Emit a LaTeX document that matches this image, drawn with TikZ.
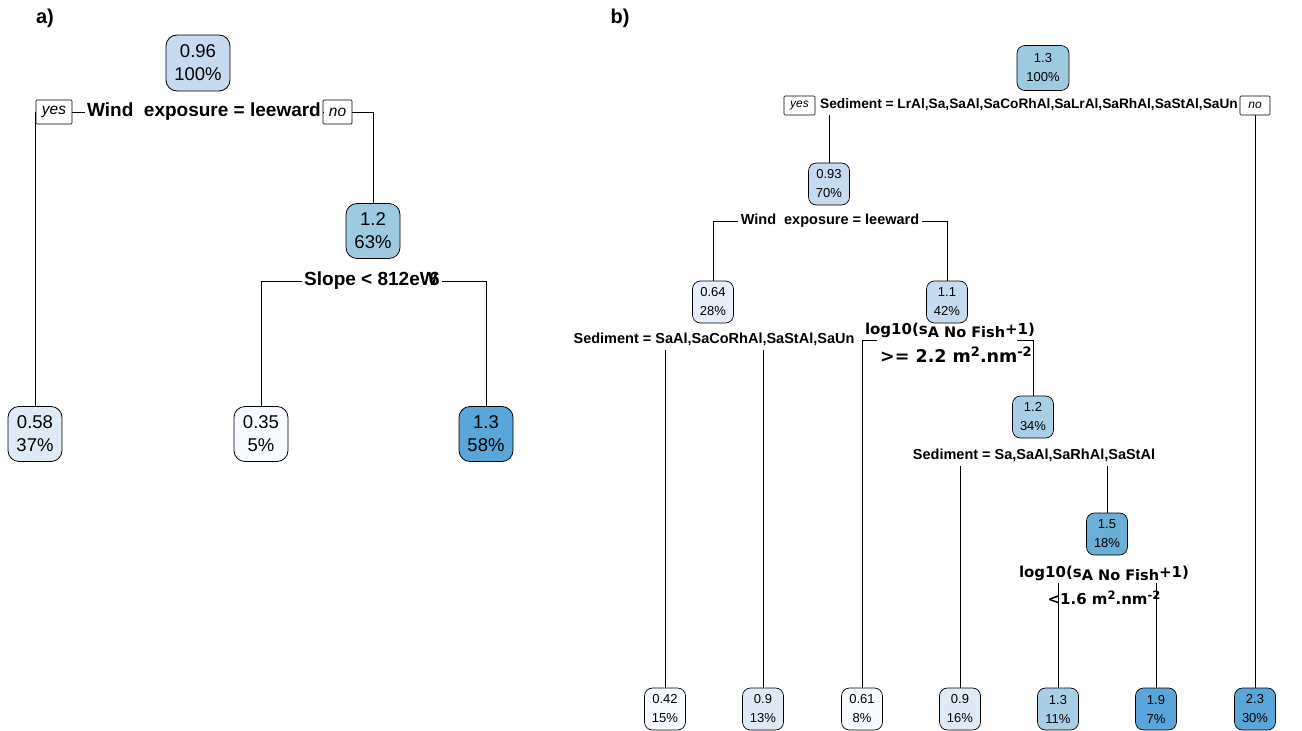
\documentclass[tikz,border=0pt]{standalone}
\usepackage{fontspec}
\setmainfont{Liberation Sans}
\newfontfamily\dvs{DejaVu Sans}
\newcommand\myfs[2]{\fontsize{#1}{#2}\selectfont}
\definecolor{cA}{HTML}{F7FBFF}
\definecolor{cB}{HTML}{E6EFF9}
\definecolor{cC}{HTML}{DEEBF7}
\definecolor{cD}{HTML}{C6DBEF}
\definecolor{cE}{HTML}{A9CFE6}
\definecolor{cF}{HTML}{9ECAE1}
\definecolor{cG}{HTML}{6BAED6}
\definecolor{cH}{HTML}{5AA5D9}
\begin{document}
\begin{tikzpicture}[x=1pt,y=-1pt,
  anode/.style={draw=black, line width=0.8pt, rounded corners=11pt, align=center,
    minimum width=54pt, minimum height=55pt, inner sep=0pt, font={\myfs{18.5}{23}}},
  bnode/.style={draw=black, line width=0.7pt, rounded corners=8pt, align=center,
    minimum width=41pt, minimum height=42pt, inner sep=0pt, font={\myfs{13}{19}}},
  splA/.style={font={\bfseries\myfs{19}{22}}, inner xsep=2pt, inner ysep=3pt},
  splB/.style={font={\bfseries\myfs{14.5}{17}}, inner xsep=3pt, inner ysep=4pt},
  ynA/.style={draw=black, line width=0.7pt, font={\itshape\myfs{15.5}{18}}, inner sep=0pt, minimum height=24pt, rounded corners=1pt},
  ynB/.style={draw=black, line width=0.6pt, font={\itshape\myfs{12}{14}}, inner sep=0pt, minimum height=19pt, rounded corners=1pt},
  logl/.style={font={\dvs\bfseries\myfs{15}{18}}, inner sep=0pt},
  panel/.style={font={\bfseries\myfs{20}{24}}, inner sep=0pt},
  conn/.style={line width=0.8pt, draw=black}]
\useasboundingbox (0,0) rectangle (1302,731);

% ---------------- panel a ----------------
\node[panel] (la) at (45,18) {a)};
\node[anode, fill=cD, minimum width=64pt, minimum height=56pt] (A0) at (198,63) {0.96\\100\%};
\node[splA] (sA) at (204,112) {Wind\ \ exposure = leeward};
\node[ynA, minimum width=36pt] (yesA) at (54,112) {yes};
\node[ynA, minimum width=29pt] (noA) at (337.5,112) {no};
\node[anode, fill=cF] (A1) at (373,231) {1.2\\63\%};
\node[splA] (sB) at (372,281) {Slope < 812eW\kern-0.45em 6};
\node[anode, fill=cC] (A2) at (35,434) {0.58\\37\%};
\node[anode, fill=cA] (A3) at (261,434) {0.35\\5\%};
\node[anode, fill=cH] (A4) at (486,434) {1.3\\58\%};

\draw[conn] (yesA.east) -- (sA.west);
\draw[conn] (sA.east) -- (noA.west);
\draw[conn] (yesA.west) -| (A2.north);
\draw[conn] (noA.east) -| (A1.north);
\draw[conn] (sB.west) -| (A3.north);
\draw[conn] (sB.east) -| (A4.north);

% ---------------- panel b ----------------
\node[panel] (lb) at (620,18) {b)};
\node[bnode, fill=cF, minimum width=52pt, minimum height=45pt] (B0) at (1043,68) {1.3\\100\%};
\node[splB, font={\bfseries\myfs{13.7}{16}}] (sR) at (1029,105) {Sediment = LrAl,Sa,SaAl,SaCoRhAl,SaLrAl,SaRhAl,SaStAl,SaUn};
\node[ynB, minimum width=31pt] (yesB) at (799.5,105.5) {yes};
\node[ynB, minimum width=30pt] (noB) at (1255,105.5) {no};

\node[bnode, fill=cD] (B1) at (829,184) {0.93\\70\%};
\node[splB] (sW) at (830,221) {Wind\ \ exposure = leeward};
\node[bnode, fill=cB] (B2) at (713,302) {0.64\\28\%};
\node[bnode, fill=cD] (B3) at (947,302) {1.1\\42\%};
\node[splB] (sS2) at (714,339) {Sediment = SaAl,SaCoRhAl,SaStAl,SaUn};

\node[logl] (lgA1) at (950,330) {log10(s\raisebox{-3pt}{\myfs{14.5}{17}A No Fish}+1)};
\node[logl, font={\dvs\bfseries\myfs{17.5}{20}}] (lgA2) at (956,355) {>= 2.2 m\raisebox{6pt}{\myfs{13}{13}2}.nm\raisebox{6pt}{\myfs{13}{13}-2}};
\coordinate (kA1) at (877,340);
\coordinate (kA2) at (1017,340);

\node[bnode, fill=cE] (B4) at (1033,417) {1.2\\34\%};
\node[splB] (sS3) at (1034,455) {Sediment = Sa,SaAl,SaRhAl,SaStAl};
\node[bnode, fill=cG] (B5) at (1107,534) {1.5\\18\%};

\node[logl] (lgB1) at (1104,573) {log10(s\raisebox{-3pt}{\myfs{14.5}{17}A No Fish}+1)};
\node[logl] (lgB2) at (1104,598) {<1.6 m\raisebox{5pt}{\myfs{11.5}{12}2}.nm\raisebox{5pt}{\myfs{11.5}{12}-2}};
\coordinate (kB) at (1100,583);

\node[bnode, fill=cA] (L1) at (665,709) {0.42\\15\%};
\node[bnode, fill=cC] (L2) at (763,709) {0.9\\13\%};
\node[bnode, fill=cA] (L3) at (862,709) {0.61\\8\%};
\node[bnode, fill=cC] (L4) at (960,709) {0.9\\16\%};
\node[bnode, fill=cE] (L5) at (1058,709) {1.3\\11\%};
\node[bnode, fill=cH] (L6) at (1156,709) {1.9\\7\%};
\node[bnode, fill=cH] (L7) at (1255,709) {2.3\\30\%};

\draw[conn] (B1.north) -- (B1.north |- sR.south);
\draw[conn] (L7.north) -- (L7.north |- sR.south);
\draw[conn] (sW.west) -| (B2.north);
\draw[conn] (sW.east) -| (B3.north);
\draw[conn] (L1.north) -- (L1.north |- sS2.south);
\draw[conn] (L2.north) -- (L2.north |- sS2.south);
\draw[conn] (kA1) -| (L3.north);
\draw[conn] (kA2) -| (B4.north);
\draw[conn] (L4.north) -- (L4.north |- sS3.south);
\draw[conn] (B5.north) -- (B5.north |- sS3.south);
\draw[conn] (L5.north) -- (L5.north |- kB);
\draw[conn] (L6.north) -- (L6.north |- kB);
\end{tikzpicture}
\end{document}
